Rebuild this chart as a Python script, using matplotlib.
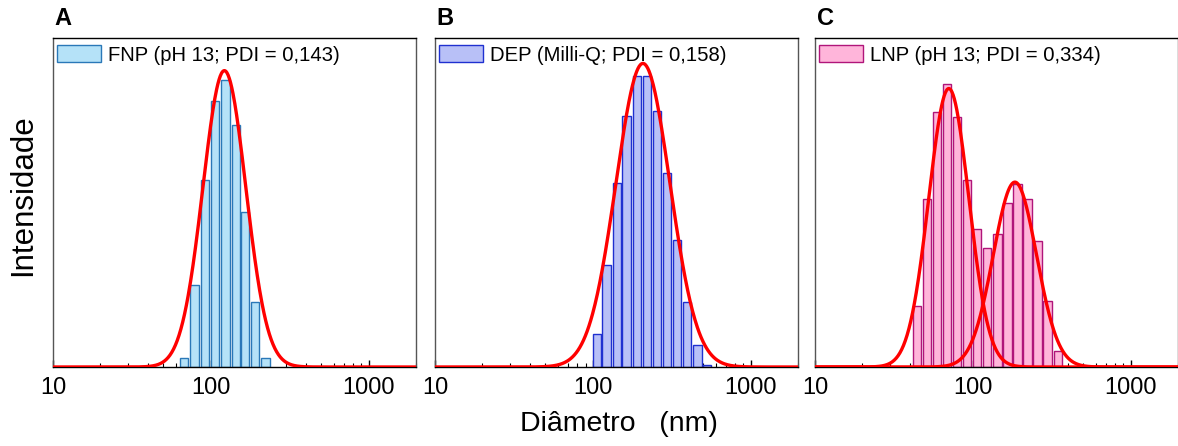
import numpy as np
import matplotlib
matplotlib.use('Agg')
import matplotlib.pyplot as plt
from matplotlib.ticker import LogLocator, NullFormatter

plt.rcParams['font.family'] = ['Liberation Sans', 'DejaVu Sans']

# ---- data (intensity in %, diameter in nm) ----
sizes_A = [68, 79, 92, 106, 124, 144, 165, 191, 222]
inten_A = [0.7, 6.3, 14.3, 20.4, 22.0, 18.5, 11.9, 5.0, 0.7]

sizes_B = [106, 122, 142, 164, 190, 220, 255, 295, 342, 395, 462, 532]
inten_B = [1.8, 5.6, 10.1, 13.8, 16.0, 16.0, 14.1, 10.7, 7.0, 3.6, 1.2, 0.1]

sizes_C = [44.2, 51.3, 59.4, 68.9, 79.7, 92.3, 106.9, 123.7, 143.2, 165.9,
           192, 222.3, 257.4, 298.3, 347.5]
inten_C = [2.6, 7.2, 10.9, 12.1, 10.7, 8.0, 5.9, 5.1, 5.7, 7.0, 7.8, 7.2,
           5.4, 2.8, 0.7]

# log-normal fit peaks: (centre nm, width in decades, height %)
fit_A = [(122, 0.136, 22.7)]
fit_B = [(208, 0.171, 16.7)]
fit_C = [(70.5, 0.127, 11.9), (185, 0.137, 7.9)]

labels = ['FNP (pH 13; PDI = 0,143)', 'DEP (Milli-Q; PDI = 0,158)',
          'LNP (pH 13; PDI = 0,334)']
letters = ['A', 'B', 'C']
ytops = [25.2, 18.1, 14.06]
fills = ['#b5e2f8', '#b8c0f7', '#ffb5da']
edges = ['#2a78b8', '#1f30d0', '#b0157a']

fig = plt.figure(figsize=(11.78, 4.46), dpi=100)
lefts = [53, 435, 815]
W, H = 1178.0, 446.0

panels = [(sizes_A, inten_A, fit_A), (sizes_B, inten_B, fit_B),
          (sizes_C, inten_C, fit_C)]

for i, (sz, it, fits) in enumerate(panels):
    ax = fig.add_axes([lefts[i] / W, 79 / H, 363 / W, 329 / H])
    sz = np.array(sz, dtype=float)
    hw = 0.0264
    le = sz * 10 ** (-hw)
    ri = sz * 10 ** hw
    ax.bar(le, it, width=ri - le, align='edge', color=fills[i],
           edgecolor=edges[i], lw=1.0, label=labels[i], zorder=2)
    xx = np.logspace(1, np.log10(2000), 600)
    for (c, s, h) in fits:
        yy = h * np.exp(-0.5 * ((np.log10(xx) - np.log10(c)) / s) ** 2)
        ax.plot(xx, yy, c='#ff0000', lw=2.4, zorder=3)
    ax.set_xscale('log')
    ax.set_xlim(10, 2000)
    ax.set_ylim(0, ytops[i])
    ax.set_yticks([])
    ax.set_xticks([10, 100, 1000])
    ax.set_xticklabels(['10', '100', '1000'], fontsize=17)
    ax.xaxis.set_minor_locator(LogLocator(base=10, subs=np.arange(2, 10)))
    ax.xaxis.set_minor_formatter(NullFormatter())
    ax.tick_params(axis='x', which='major', direction='in', length=5, width=1, pad=7)
    ax.tick_params(axis='x', which='minor', direction='in', length=3, width=0.8)
    for sp in ax.spines.values():
        sp.set_linewidth(1.0)
    for sp in ['left', 'right']:
        ax.spines[sp].set_color('#555555')
    ax.legend(loc='upper left', bbox_to_anchor=(0.005, 0.985), frameon=False,
              fontsize=14.6, handlelength=2.2, handleheight=0.95,
              handletextpad=0.3, borderpad=0.1, borderaxespad=0)
    ax.text(0.005, 1.025, letters[i], transform=ax.transAxes, fontsize=17,
            fontweight='bold', va='bottom', ha='left')

fig.text(619 / W, 1 - 424 / H, 'Diâmetro   (nm)', fontsize=20.5, ha='center', va='center')
fig.text(23 / W, 1 - 195 / H, 'Intensidade', fontsize=22.5, rotation=90,
         ha='center', va='center')

plt.savefig('out.png', dpi=100)
